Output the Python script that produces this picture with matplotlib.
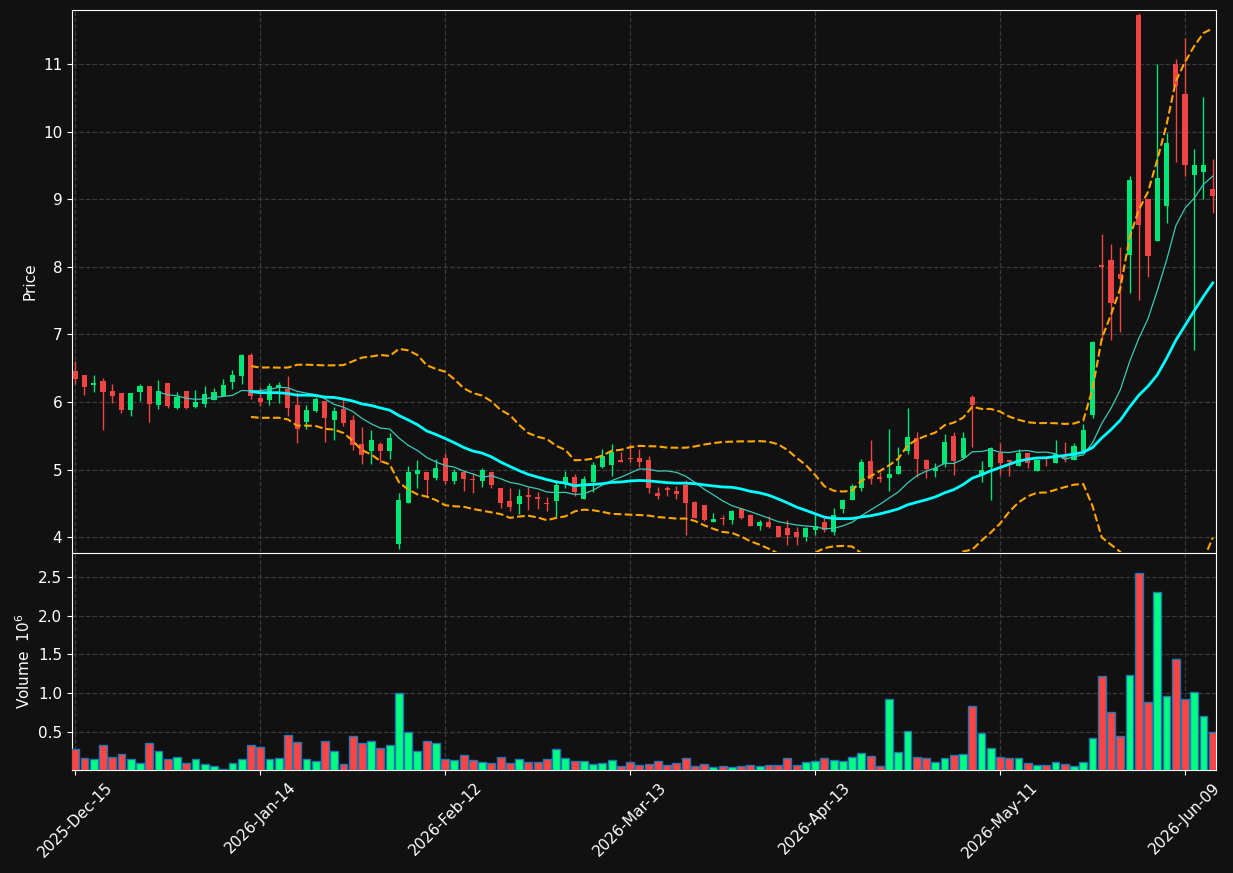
import matplotlib
matplotlib.use("Agg")
import matplotlib.pyplot as plt
import numpy as np
import pandas as pd

# daily OHLC (index 0 = 2025-Dec-15)
opens = [6.46, 6.40, 6.25, 6.31, 6.16, 6.13, 5.88, 6.15, 6.24, 5.95,
         6.28, 5.91, 6.16, 5.93, 5.97, 6.03, 6.09, 6.29, 6.39, 6.69,
         6.06, 6.03, 6.21, 6.19, 5.95, 5.70, 5.87, 6.01, 5.73, 5.89,
         5.73, 5.38, 5.27, 5.38, 5.27, 3.90, 4.51, 4.93, 4.96, 4.88,
         5.17, 4.83, 4.97, 4.86, 4.83, 4.96, 4.73, 4.53, 4.49, 4.62,
         4.59, 4.51, 4.53, 4.80, 4.89, 4.56, 4.82, 5.04, 5.07, 5.14,
         5.17, 5.17, 5.14, 4.65, 4.73, 4.68, 4.77, 4.52, 4.47, 4.23,
         4.28, 4.25, 4.42, 4.33, 4.17, 4.22, 4.17, 4.13, 4.07, 4.00,
         4.10, 4.22, 4.08, 4.41, 4.55, 4.73, 5.12, 4.89, 4.87, 4.94,
         5.28, 5.47, 5.14, 4.98, 5.08, 5.49, 5.17, 6.07, 4.94, 5.04,
         5.25, 5.14, 5.06, 5.24, 4.98, 5.18, 5.10, 5.18, 5.14, 5.28,
         5.80, 8.03, 8.10, 7.89, 8.17, 11.72, 9.01, 8.38, 8.90, 11.00,
         10.56, 9.36, 9.40, 9.15]
highs = [6.60, 6.40, 6.40, 6.36, 6.26, 6.13, 6.13, 6.27, 6.24, 6.32,
         6.28, 6.15, 6.16, 6.17, 6.24, 6.21, 6.34, 6.47, 6.71, 6.73,
         6.22, 6.28, 6.30, 6.39, 6.15, 5.95, 6.07, 6.01, 5.93, 6.04,
         5.80, 5.63, 5.59, 5.41, 5.54, 4.65, 5.05, 5.14, 4.96, 5.16,
         5.24, 5.01, 4.97, 4.95, 5.02, 4.96, 4.73, 4.72, 4.71, 4.74,
         4.67, 4.59, 4.84, 4.98, 4.93, 4.91, 5.11, 5.30, 5.38, 5.26,
         5.38, 5.31, 5.20, 4.74, 4.76, 4.76, 4.84, 4.54, 4.47, 4.35,
         4.33, 4.40, 4.43, 4.34, 4.25, 4.31, 4.17, 4.25, 4.15, 4.15,
         4.35, 4.29, 4.43, 4.57, 4.79, 5.15, 5.44, 4.96, 5.60, 5.34,
         5.91, 5.55, 5.16, 5.10, 5.52, 5.55, 5.55, 6.11, 5.12, 5.33,
         5.40, 5.14, 5.31, 5.24, 5.15, 5.18, 5.44, 5.41, 5.39, 5.68,
         6.90, 8.49, 8.34, 8.29, 9.35, 11.75, 9.01, 11.00, 9.98, 11.08,
         11.38, 9.75, 10.51, 9.60]
lows = [6.27, 6.11, 6.15, 5.59, 5.99, 5.83, 5.79, 6.01, 5.71, 5.90,
        5.91, 5.90, 5.90, 5.91, 5.93, 6.03, 6.09, 6.19, 6.26, 6.05,
        5.94, 5.95, 5.99, 5.79, 5.39, 5.60, 5.85, 5.41, 5.43, 5.65,
        5.29, 5.08, 5.08, 5.11, 5.16, 3.83, 4.51, 4.72, 4.59, 4.85,
        4.78, 4.79, 4.69, 4.66, 4.74, 4.73, 4.43, 4.38, 4.34, 4.40,
        4.42, 4.38, 4.30, 4.73, 4.61, 4.56, 4.67, 5.02, 4.91, 5.11,
        5.11, 5.04, 4.65, 4.56, 4.61, 4.56, 4.03, 4.28, 4.24, 4.23,
        4.18, 4.20, 4.27, 4.16, 4.10, 4.13, 4.00, 3.89, 3.89, 3.95,
        4.03, 4.08, 4.03, 4.36, 4.55, 4.68, 4.78, 4.81, 4.68, 4.94,
        5.23, 4.89, 4.87, 4.89, 5.04, 4.92, 5.17, 5.34, 4.81, 4.55,
        4.92, 4.90, 5.06, 5.03, 4.98, 5.05, 5.10, 5.11, 5.14, 5.26,
        5.76, 6.91, 6.91, 7.04, 7.61, 7.51, 7.85, 8.38, 8.65, 9.55,
        9.35, 6.77, 9.00, 8.80]
closes = [6.34, 6.22, 6.28, 6.15, 6.09, 5.88, 6.13, 6.24, 5.97, 6.16,
          5.94, 6.08, 5.91, 6.00, 6.12, 6.15, 6.25, 6.40, 6.69, 6.09,
          6.00, 6.24, 6.25, 5.91, 5.60, 5.88, 6.04, 5.76, 5.87, 5.69,
          5.36, 5.22, 5.44, 5.27, 5.47, 4.55, 4.96, 4.99, 4.85, 5.02,
          4.83, 4.97, 4.86, 4.85, 4.99, 4.77, 4.51, 4.45, 4.61, 4.59,
          4.56, 4.49, 4.77, 4.89, 4.67, 4.86, 5.07, 5.20, 5.26, 5.11,
          5.15, 5.11, 4.73, 4.61, 4.70, 4.64, 4.51, 4.29, 4.25, 4.27,
          4.27, 4.39, 4.29, 4.17, 4.22, 4.15, 4.00, 4.03, 4.00, 4.13,
          4.16, 4.10, 4.33, 4.55, 4.75, 5.11, 4.86, 4.86, 4.93, 5.05,
          5.48, 5.16, 5.01, 5.03, 5.41, 5.12, 5.47, 5.96, 4.99, 5.32,
          5.10, 5.11, 5.24, 5.09, 5.14, 5.16, 5.23, 5.16, 5.35, 5.58,
          6.885, 8.00, 7.47, 7.82, 9.28, 8.62, 8.16, 9.31, 9.83, 10.68,
          9.50, 9.50, 9.50, 9.05]
# volume in millions
volumes = [0.280, 0.164, 0.151, 0.332, 0.177, 0.216, 0.147, 0.100, 0.357, 0.254,
           0.147, 0.177, 0.100, 0.151, 0.087, 0.058, 0.019, 0.100, 0.151, 0.332,
           0.306, 0.147, 0.160, 0.461, 0.371, 0.151, 0.125, 0.383, 0.254, 0.087,
           0.448, 0.357, 0.379, 0.289, 0.332, 0.998, 0.500, 0.254, 0.379, 0.357,
           0.151, 0.138, 0.203, 0.138, 0.112, 0.099, 0.177, 0.099, 0.151, 0.112,
           0.112, 0.151, 0.280, 0.164, 0.125, 0.125, 0.086, 0.099, 0.138, 0.060,
           0.112, 0.073, 0.086, 0.125, 0.073, 0.099, 0.164, 0.060, 0.086, 0.047,
           0.060, 0.047, 0.060, 0.073, 0.060, 0.073, 0.073, 0.164, 0.073, 0.112,
           0.125, 0.164, 0.138, 0.125, 0.177, 0.228, 0.190, 0.060, 0.926, 0.241,
           0.512, 0.177, 0.164, 0.112, 0.164, 0.203, 0.216, 0.835, 0.486, 0.293,
           0.177, 0.164, 0.164, 0.099, 0.073, 0.073, 0.112, 0.086, 0.060, 0.112,
           0.427, 1.222, 0.758, 0.448, 1.235, 2.551, 0.887, 2.306, 0.964, 1.441,
           0.926, 1.016, 0.706, 0.500]

tick_pos = [0, 20, 40, 60, 80, 100, 120]
tick_labels = ["2025-Dec-15", "2026-Jan-14", "2026-Feb-12", "2026-Mar-13",
               "2026-Apr-13", "2026-May-11", "2026-Jun-09"]

bg = "#111111"
up_c = "#00e676"
dn_c = "#ef4444"
up_v = "#00ff80"
dn_v = "#ff4444"
grid_c = "#3a3a3a"

df = pd.DataFrame({"o": opens, "h": highs, "l": lows, "c": closes, "v": volumes})
x = np.arange(len(df))
ma10 = df["c"].rolling(10).mean()
ma20 = df["c"].rolling(20).mean()
sd20 = df["c"].rolling(20).std()
bb_up = ma20 + 2 * sd20
bb_lo = ma20 - 2 * sd20

fig = plt.figure(figsize=(12.33, 8.73), dpi=100, facecolor=bg)
ax = fig.add_axes([0.0584, 0.3677, 0.9278, 0.6208], facecolor=bg)
axv = fig.add_axes([0.0584, 0.118, 0.9278, 0.2486], facecolor=bg, sharex=ax)

up = df["c"] >= df["o"]
cols = np.where(up, up_c, dn_c)
vcols = np.where(up, up_v, dn_v)

# candles
ax.vlines(x, df["l"], df["h"], colors=cols, linewidth=1, zorder=3)
body_lo = np.minimum(df["o"], df["c"])
body_h = np.maximum(np.abs(df["c"] - df["o"]), 0.012)
ax.bar(x, body_h, bottom=body_lo, width=0.55, color=cols, linewidth=0, zorder=4)

# moving averages and bands
ax.plot(x, ma10, color="#3cc8b8", linewidth=0.9, zorder=5)
ax.plot(x, ma20, color="#00ffff", linewidth=2, zorder=5)
ax.plot(x, bb_up, color="#ffa500", linewidth=1.5, linestyle="--", zorder=5)
ax.plot(x, bb_lo, color="#ffa500", linewidth=1.5, linestyle="--", zorder=5)

# volume
axv.bar(x, df["v"], width=0.85, color=vcols, edgecolor="#1f77b4", linewidth=1, zorder=3)

ax.set_xlim(-0.35, len(df) - 1 + 0.35)
ax.set_ylim(3.78, 11.80)
axv.set_ylim(0.01, 2.806)
ax.set_yticks(range(4, 12))
axv.set_yticks([0.5, 1.0, 1.5, 2.0, 2.5])

axv.set_xticks(tick_pos)
axv.set_xticklabels(tick_labels, rotation=45, ha="center")
ax.tick_params(axis="x", labelbottom=False, length=0)
ax.spines["bottom"].set_visible(False)

for a in (ax, axv):
    a.grid(True, color=grid_c, linestyle="--", linewidth=0.9)
    a.set_axisbelow(True)
    a.tick_params(colors="white", labelsize=11)
    for s in a.spines.values():
        s.set_color("white")

ax.set_ylabel("Price", color="white", fontsize=11)
axv.set_ylabel("Volume  $10^{6}$", color="white", fontsize=11)

fig.savefig("out.png", dpi=100, facecolor=bg)
